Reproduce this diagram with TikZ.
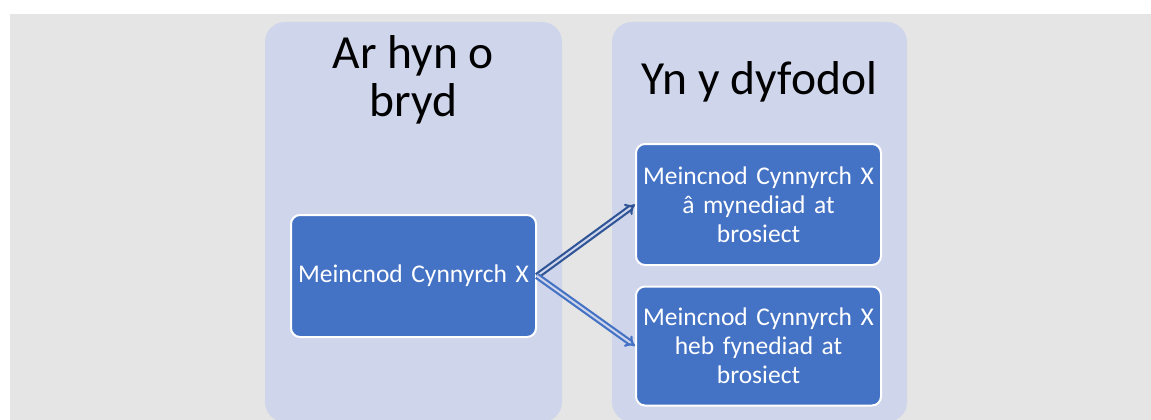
\documentclass[tikz,border=0pt]{standalone}
\usepackage{fontspec}
\setmainfont{Carlito}
\usetikzlibrary{arrows.meta,positioning}
\definecolor{bggrey}{HTML}{E5E5E5}
\definecolor{panelblue}{HTML}{CFD5EA}
\definecolor{itemblue}{HTML}{4472C4}
\definecolor{darkblue}{HTML}{2F5597}

\begin{document}
\begin{tikzpicture}[x=1pt,y=-1pt,
  panel/.style={fill=panelblue, rounded corners=20pt, inner sep=0pt, minimum height=400pt},
  heading/.style={align=center, font=\fontsize{47.5}{48}\selectfont},
  item/.style={draw=white, line width=2pt, fill=itemblue, rounded corners=9pt, text=white,
    minimum width=245pt, text width=245pt, inner sep=0pt, align=center,
    font=\fontsize{25.5}{29}\selectfont},
  link/.style={double=panelblue, double distance=2pt, line width=2.2pt, -{Implies}}]
\clip (0,0) rectangle (1151,420);
\fill[white] (0,0) rectangle (1151,420);
\fill[bggrey] (10,14) rectangle (1151,420);
% the two columns
\node[panel, minimum width=297pt] (past) at (413.5,222) {};
\node[panel, minimum width=295pt] (future) at (759.5,222) {};
\node[heading] (pasttitle) at (413.5,80) {Ar hyn o\\bryd};
\node[heading, anchor=base] (futuretitle) at (759.5,95) {Yn y dyfodol};
% boxes
\node[item, minimum height=122pt] (now) at (413.5,276) {Meincnod Cynnyrch X};
\node[item, minimum height=121pt] (with) at (758.5,204.5) {Meincnod Cynnyrch X\\â mynediad at\\brosiect};
\node[item, minimum height=119pt] (without) at (758.5,346) {Meincnod Cynnyrch X\\heb fynediad at\\brosiect};
% arrows
\draw[link, darkblue] (now.east) -- (with.west);
\draw[link, itemblue] (now.east) -- (without.west);
\end{tikzpicture}
\end{document}
